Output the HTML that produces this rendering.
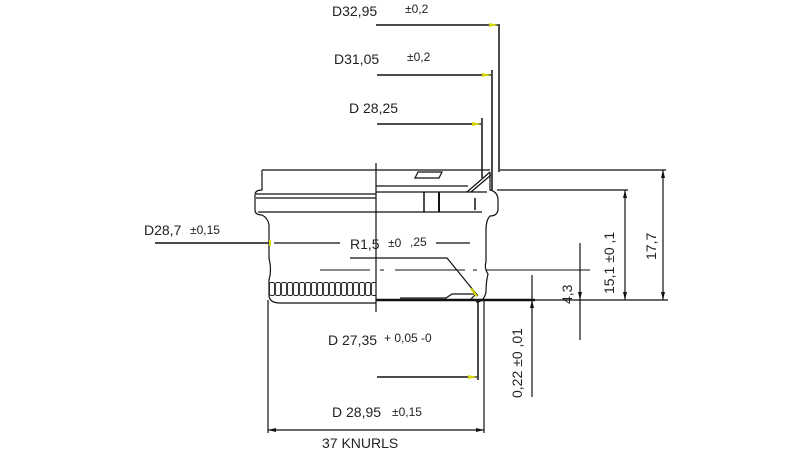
<!DOCTYPE html>
<html><head><meta charset="utf-8"><style>
html,body{margin:0;padding:0;background:#fff;width:800px;height:450px;overflow:hidden}
text{font-family:"Liberation Sans",sans-serif;fill:#222}
</style></head><body>
<svg width="800" height="450" viewBox="0 0 800 450" xmlns="http://www.w3.org/2000/svg">
<defs>
<pattern id="kn" x="269" y="282" width="6" height="14" patternUnits="userSpaceOnUse">
<rect x="0.5" y="0.5" width="5" height="13" rx="1.5" fill="none" stroke="#222" stroke-width="0.9"/>
</pattern>
</defs>
<g stroke="#111" fill="none" stroke-width="1.2">
<line x1="376" y1="25" x2="498" y2="25" stroke-width="1.5"/>
<line x1="499" y1="24" x2="499" y2="172" stroke-width="1.5"/>
<line x1="377" y1="75" x2="491" y2="75" stroke-width="1.5"/>
<line x1="492" y1="70" x2="492" y2="190" stroke-width="1.5"/>
<line x1="377" y1="124" x2="481" y2="124" stroke-width="1.5"/>
<line x1="482" y1="118" x2="482" y2="178" stroke-width="1.5"/>
<line x1="262" y1="170" x2="490" y2="170"/>
<path d="M262 170 V190 Q255 190 255 195 V210 Q255 215 262 215 Q268 218 269 225 V258 Q272 270 269 280 V296 Q270 303 280 303 H376"/>
<line x1="256" y1="194" x2="376" y2="194"/>
<line x1="256" y1="198" x2="376" y2="198"/>
<line x1="258" y1="212" x2="376" y2="212"/>
<rect x="269" y="282" width="107" height="14" fill="url(#kn)" stroke="none"/>
<line x1="376" y1="163" x2="376" y2="312"/>
<line x1="376" y1="192" x2="487" y2="192"/>
<line x1="376" y1="212" x2="482" y2="212"/>
<line x1="376" y1="186" x2="468" y2="186"/>
<line x1="424" y1="192" x2="424" y2="212" stroke-width="1.5"/>
<line x1="439" y1="192" x2="439" y2="212" stroke-width="2"/>
<line x1="475" y1="198" x2="475" y2="210" stroke-width="1.5"/>
<path d="M415 178 L418 172 H442 L439 178 Z"/>
<path d="M467 192 L490 172 M471 192 L491 175"/>
<path d="M490 172 V190 Q498 192 498 200 V210 Q497 216 490 216 Q486 220 486 230 V262 Q484 268 488 274 Q486 282 486 292 Q484 302 476 302"/>
<path d="M376 300 H470 L476 294 H452 L446 298 H400"/>
<line x1="376" y1="300" x2="535" y2="300" stroke-width="2.5"/>
<line x1="535" y1="300" x2="668" y2="300"/>
<path d="M320 270 H370 M380 270 H384 M395 270 H465 M473 270 H477 M486 270 H590" stroke-width="1.1"/>
<line x1="155" y1="243" x2="270" y2="243" stroke-width="1.5"/>
<path d="M274 243 H340 M436 243 H470" stroke-width="1.2"/>
<path d="M350 258 H447 L478 296"/>
<line x1="500" y1="170" x2="666" y2="170"/>
<line x1="663" y1="170" x2="663" y2="300"/>
<line x1="497" y1="190" x2="628" y2="190"/>
<line x1="625" y1="190" x2="625" y2="300"/>
<line x1="580" y1="243" x2="580" y2="340"/>
<line x1="532" y1="275" x2="532" y2="397"/>
<line x1="478" y1="300" x2="478" y2="380" stroke-width="1.5"/>
<line x1="377" y1="377" x2="477" y2="377" stroke-width="1.5"/>
<line x1="268" y1="300" x2="268" y2="433"/>
<line x1="484" y1="300" x2="484" y2="433"/>
<line x1="268" y1="430" x2="484" y2="430"/>
</g>
<g fill="#111">
<path d="M663 170 l-2 8 h4z M663 300 l-2 -8 h4z M625 190 l-2 8 h4z M625 300 l-2 -8 h4z M580 300 l-2 -8 h4z M532 300 l-2 8 h4z M268 430 l8 -2 v4z M484 430 l-8 -2 v4z"/>
</g>
<g fill="#d8d800">
<path d="M498 25 l-9 -2 v4z M491 75 l-9 -2 v4z M481 124 l-9 -2 v4z M477 377 l-9 -2 v4z"/>
<rect x="269" y="240" width="2" height="6"/>
<path d="M472 288 l6 8 l-2 1 l-6 -8z"/>
</g>
<g font-size="14">
<text x="332" y="16">D32,95</text><text x="405" y="13" font-size="12">±0,2</text>
<text x="334" y="64">D31,05</text><text x="407" y="61" font-size="12">±0,2</text>
<text x="349" y="113">D 28,25</text>
<text x="144" y="235">D28,7</text><text x="190" y="234" font-size="12">±0,15</text>
<text x="350" y="249">R1,5</text><text x="388" y="247" font-size="12">±0</text><text x="410" y="246" font-size="12">,25</text>
<text x="328" y="345">D 27,35</text><text x="384" y="342" font-size="12">+ 0,05 -0</text>
<text x="332" y="417">D 28,95</text><text x="392" y="416" font-size="12">±0,15</text>
<text x="322" y="448">37 KNURLS</text>
<text transform="translate(656,260) rotate(-90)">17,7</text>
<text transform="translate(614,294) rotate(-90)">15,1 ±0 ,1</text>
<text transform="translate(572,304) rotate(-90)">4,3</text>
<text transform="translate(522,398) rotate(-90)">0,22 ±0 ,01</text>
</g>
</svg>
</body></html>
